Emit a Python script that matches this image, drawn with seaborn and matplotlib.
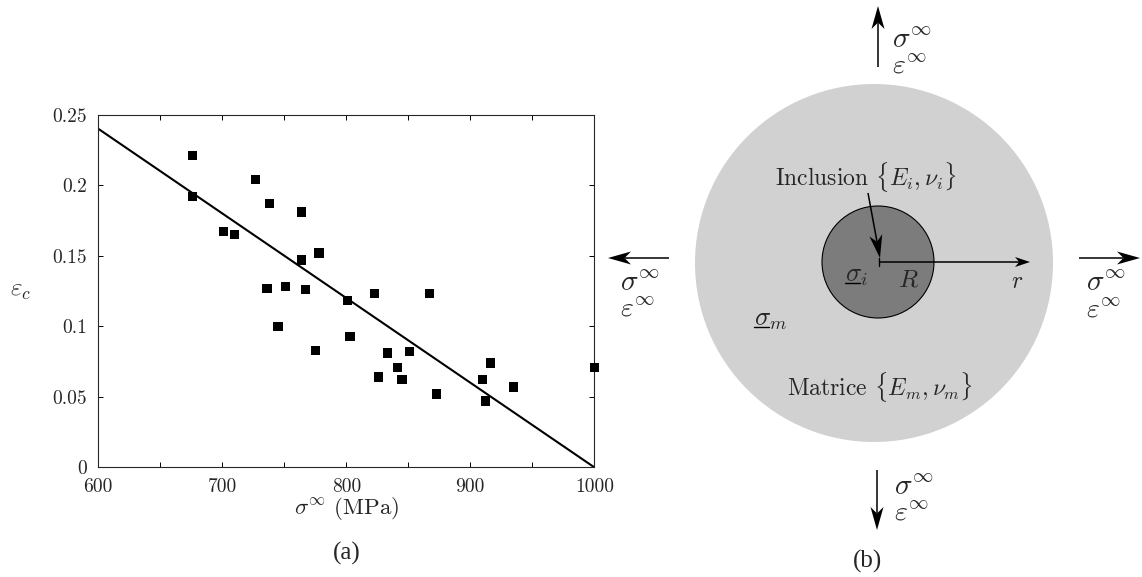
import matplotlib
matplotlib.use("Agg")
import matplotlib.pyplot as plt
from matplotlib.patches import Circle, Polygon
import numpy as np
import pandas as pd
import seaborn as sns

# measured points, panel (a)
sigma = [676, 676, 701, 710, 727, 738, 736, 751, 745, 764, 764, 767, 778, 775, 801,
         803, 823, 826, 833, 841, 845, 851, 867, 873, 910, 912, 916, 935, 1000]
eps_c = [0.221, 0.192, 0.167, 0.165, 0.204, 0.187, 0.127, 0.128, 0.100, 0.181, 0.147,
         0.126, 0.152, 0.083, 0.118, 0.093, 0.123, 0.064, 0.081, 0.071, 0.062, 0.082,
         0.123, 0.052, 0.062, 0.047, 0.074, 0.057, 0.071]
fit_sigma = [600, 1000]
fit_eps = [0.24, 0]
x_major = [600, 700, 800, 900, 1000]
x_minor = [650, 750, 850, 950]
y_ticks = [0, 0.05, 0.1, 0.15, 0.2, 0.25]
y_labels = ["0", "0.05", "0.1", "0.15", "0.2", "0.25"]

sns.set_theme(style="ticks", rc={
    "axes.linewidth": 0.8,
    "xtick.direction": "in",
    "ytick.direction": "in",
    "xtick.top": True,
    "ytick.right": True,
})
plt.rcParams["font.family"] = ["cmr10", "DejaVu Sans"]
plt.rcParams["mathtext.fontset"] = "cm"
plt.rcParams["axes.formatter.use_mathtext"] = True
plt.rcParams["axes.unicode_minus"] = False

W, H = 1142, 577
fig = plt.figure(figsize=(W / 100, H / 100), dpi=100)

# panel (a)
left, right, top, bottom = 98.3, 594.3, 114.7, 467.3
ax = fig.add_axes([left / W, 1 - bottom / H, (right - left) / W, (bottom - top) / H])
df = pd.DataFrame({"sigma": sigma, "eps": eps_c})
fit = pd.DataFrame({"sigma": fit_sigma, "eps": fit_eps})
sns.lineplot(data=fit, x="sigma", y="eps", color="black", lw=1.5, ax=ax)
sns.scatterplot(data=df, x="sigma", y="eps", marker="s", s=44, color="black",
                edgecolor="none", clip_on=False, zorder=3, ax=ax)
ax.set_xlim(600, 1000)
ax.set_ylim(0, 0.25)
ax.set_xticks(x_major)
ax.set_xticks(x_minor, minor=True)
ax.set_xticklabels([str(v) for v in x_major])
ax.set_yticks(y_ticks)
ax.set_yticklabels(y_labels)
ax.tick_params(which="both", length=3.5, width=0.7, labelsize=14, pad=8, color="black")
ax.set_xlabel("")
ax.set_ylabel("")

# panel (b) and the free text, drawn in pixel coordinates
ov = fig.add_axes([0, 0, 1, 1])
ov.set_xlim(0, W)
ov.set_ylim(H, 0)
ov.axis("off")
ov.patch.set_alpha(0)

ov.add_patch(Circle((874, 263), 179, fc="#d1d1d1", ec="none"))
ov.add_patch(Circle((878, 262), 56, fc="#7c7c7c", ec="black", lw=0.8))


def arrow(start, end, length=23, half=6.5):
    # stealth head: long, narrow, notched at the back
    a, b = np.array(start, float), np.array(end, float)
    d = (b - a) / np.linalg.norm(b - a)
    n = np.array([-d[1], d[0]])
    back = b - d * length
    notch = b - d * length * 0.72
    ov.plot([a[0], notch[0]], [a[1], notch[1]], color="black", lw=1.1, solid_capstyle="butt")
    ov.add_patch(Polygon([b, back + n * half, notch, back - n * half], fc="black", ec="none"))


arrow((878, 67), (878, 6))
arrow((877, 470), (877, 530))
arrow((669, 258), (608, 258))
arrow((1079, 258), (1140, 258))
arrow((879, 262), (1030, 262), length=15, half=5)
arrow((868, 193), (880, 258))
ov.plot([879, 879], [258, 266], color="black", lw=1)

sig = r"$\sigma^{\infty}$"
eps = r"$\varepsilon^{\infty}$"
for x, y in [(892, 40), (1086, 283), (620, 283), (894, 487)]:
    ov.text(x, y, sig, fontsize=21, ha="left", va="center")
for x, y in [(892, 66), (1086, 310), (620, 309), (894, 513)]:
    ov.text(x, y, eps, fontsize=20, ha="left", va="center")

ov.text(775, 177, r"Inclusion $\{E_i,\nu_i\}$", fontsize=17, ha="left", va="center")
ov.text(787, 387, r"Matrice $\{E_m,\nu_m\}$", fontsize=17, ha="left", va="center")
ov.text(845, 276, r"$\sigma_i$", fontsize=19, ha="left", va="center")
ov.plot([845, 860], [283, 283], color="black", lw=1)
ov.text(898, 280, r"$R$", fontsize=18, ha="left", va="center")
ov.text(1011, 282, r"$r$", fontsize=17, ha="left", va="center")
ov.text(754, 320, r"$\sigma_m$", fontsize=19, ha="left", va="center")
ov.plot([754, 769], [327, 327], color="black", lw=1)

ov.text(347, 509, r"$\sigma^{\infty}$ (MPa)", fontsize=16.5, ha="center", va="center")
ov.text(21, 291, r"$\varepsilon_c$", fontsize=18, ha="center", va="center")
ov.text(347, 553, "(a)", fontsize=18, ha="center", va="center", family="Liberation Serif")
ov.text(868, 561, "(b)", fontsize=18, ha="center", va="center", family="Liberation Serif")

fig.savefig("out.png", dpi=100)
